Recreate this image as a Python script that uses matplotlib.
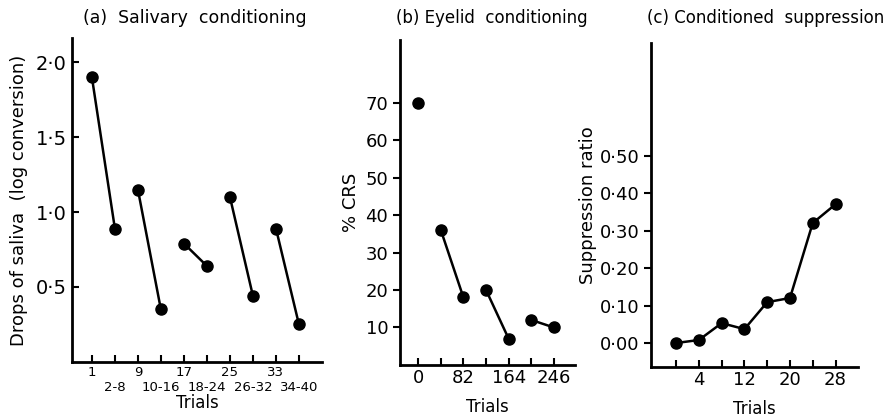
import matplotlib
matplotlib.use("Agg")
import matplotlib.pyplot as plt

plt.rcParams['font.family'] = ['DejaVu Sans']

# (a) salivary conditioning: pairs of points per block
sal_x = [0, 1, 2, 3, 4, 5, 6, 7, 8, 9]
sal_y = [1.90, 0.89, 1.15, 0.35, 0.79, 0.64, 1.10, 0.44, 0.89, 0.25]
sal_first = ["1", "9", "17", "25", "33"]
sal_rest = ["2-8", "10-16", "18-24", "26-32", "34-40"]
sal_yticks = [0.5, 1.0, 1.5, 2.0]
sal_yticklabels = ["0·5", "1·0", "1·5", "2·0"]

# (b) eyelid conditioning
eye_x = [0, 41, 82, 123, 164, 205, 246]
eye_y = [70, 36, 18, 20, 7, 12, 10]
eye_xlabels = ["0", "", "82", "", "164", "", "246"]
eye_yticks = [10, 20, 30, 40, 50, 60, 70]

# (c) conditioned suppression
sup_x = [0, 4, 8, 12, 16, 20, 24, 28]
sup_y = [0.00, 0.008, 0.053, 0.037, 0.109, 0.12, 0.32, 0.37]
sup_xlabels = ["", "4", "", "12", "", "20", "", "28"]
sup_yticks = [0.0, 0.1, 0.2, 0.3, 0.4, 0.5]
sup_yticklabels = ["0·00", "0·10", "0·20", "0·30", "0·40", "0·50"]

fig = plt.figure(figsize=(8.87, 4.18), dpi=100)

def style(ax):
    for s in ["top", "right"]:
        ax.spines[s].set_visible(False)
    for s in ["left", "bottom"]:
        ax.spines[s].set_linewidth(2)
    ax.tick_params(axis="x", direction="in", length=5, width=1.5, labelsize=10, pad=3)
    ax.tick_params(axis="y", length=5, width=1.5, labelsize=13)

mk = dict(color="black", marker="o", markersize=8, linewidth=1.8)

# panel a
ax1 = fig.add_axes([0.081, 0.134, 0.282, 0.775])
style(ax1)
for i in range(0, len(sal_x), 2):
    ax1.plot(sal_x[i:i + 2], sal_y[i:i + 2], **mk)
ax1.set_xlim(-0.87, 10)
ax1.set_ylim(0, 2.16)
ax1.set_xticks(sal_x[0::2])
ax1.set_xticklabels(sal_first, fontsize=9.5)
ax1.set_xticks(sal_x[1::2], minor=True)
ax1.set_xticklabels(sal_rest, minor=True, fontsize=9.5)
ax1.tick_params(axis="x", which="minor", direction="in", length=5, width=1.5, pad=14)
ax1.set_yticks(sal_yticks)
ax1.set_yticklabels(sal_yticklabels)
ax1.tick_params(axis="y", direction="in", labelsize=14)
ax1.set_xlabel("Trials", fontsize=12, labelpad=0)
ax1.set_ylabel("Drops of saliva  (log conversion)", fontsize=13, labelpad=6)
fig.text(195 / 887, 1 - 18 / 418, "(a)  Salivary  conditioning", fontsize=12.5,
         ha="center", va="center")

# panel b
ax2 = fig.add_axes([0.451, 0.127, 0.197, 0.777])
style(ax2)
ax2.plot([eye_x[0]], [eye_y[0]], **mk)
for i in range(1, len(eye_x), 2):
    ax2.plot(eye_x[i:i + 2], eye_y[i:i + 2], **mk)
ax2.set_xlim(-33, 284)
ax2.set_ylim(0, 86.7)
ax2.set_xticks(eye_x)
ax2.set_xticklabels(eye_xlabels, fontsize=13)
ax2.set_yticks(eye_yticks)
ax2.tick_params(axis="y", direction="out", labelsize=13)
ax2.set_xlabel("Trials", fontsize=12, labelpad=8)
ax2.set_ylabel("% CRS", fontsize=13, labelpad=4)
fig.text(492 / 887, 1 - 18 / 418, "(b) Eyelid  conditioning", fontsize=12,
         ha="center", va="center")

# panel c
ax3 = fig.add_axes([0.734, 0.122, 0.233, 0.775])
style(ax3)
ax3.plot(sup_x, sup_y, **mk)
ax3.set_xlim(-4.4, 31.9)
ax3.set_ylim(-0.064, 0.80)
ax3.set_xticks(sup_x)
ax3.set_xticklabels(sup_xlabels, fontsize=13)
ax3.set_yticks(sup_yticks)
ax3.set_yticklabels(sup_yticklabels)
ax3.tick_params(axis="y", direction="out", labelsize=13)
ax3.set_xlabel("Trials", fontsize=12, labelpad=8)
ax3.set_ylabel("Suppression ratio", fontsize=13, labelpad=2)
fig.text(766 / 887, 1 - 18 / 418, "(c) Conditioned  suppression", fontsize=12,
         ha="center", va="center")

fig.savefig("out.png", dpi=100)
